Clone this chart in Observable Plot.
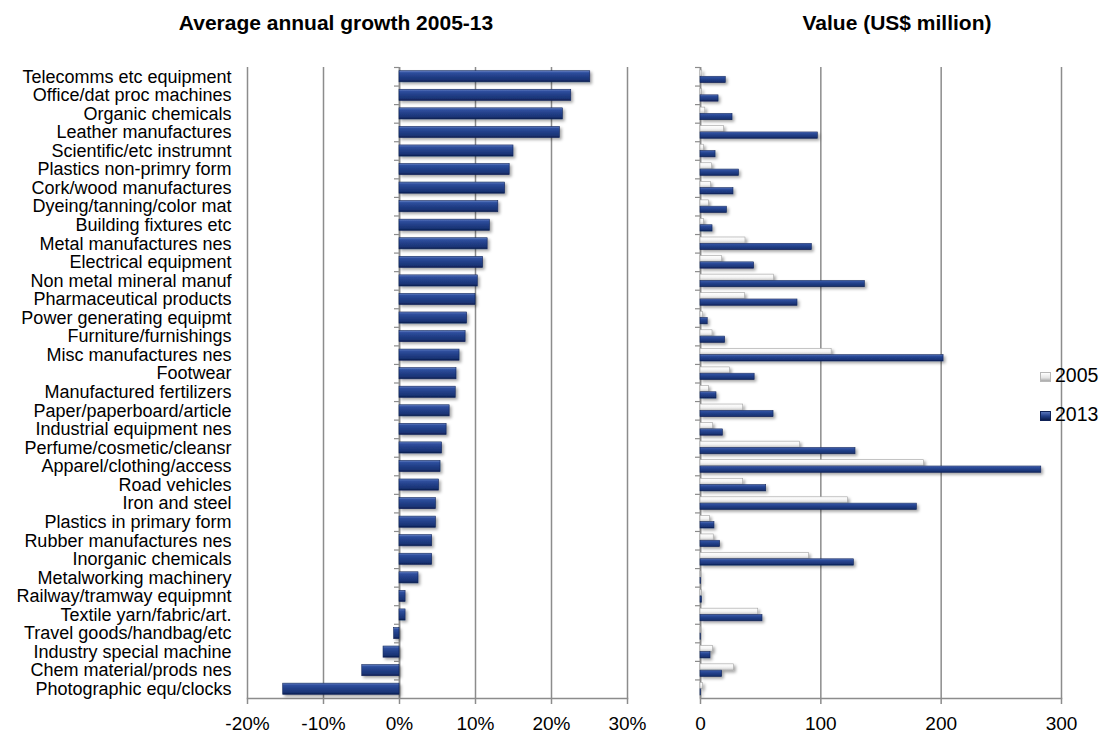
<!DOCTYPE html>
<html>
<head>
<meta charset="utf-8">
<script src="https://cdn.jsdelivr.net/npm/d3@7"></script>
<script src="https://cdn.jsdelivr.net/npm/@observablehq/plot@0.6"></script>
<style>
  html, body { margin: 0; padding: 0; background: #fff; }
  #wrap { position: relative; width: 1104px; height: 733px; font-family: "Liberation Sans", Arial, sans-serif; color: #000; }
  #wrap svg { position: absolute; top: 0; }
  .title { position: absolute; top: 12px; font-weight: bold; font-size: 21px; line-height: 21px; text-align: center; white-space: nowrap; }
  .leg { position: absolute; left: 1040px; font-size: 19.5px; line-height: 20px; white-space: nowrap; }
  .leg .sw { display: inline-block; width: 11px; height: 10px; vertical-align: middle; margin-right: 4px; box-sizing: border-box; }
</style>
</head>
<body>
<div id="wrap">
  <div class="title" style="left:0px;width:672px;">Average annual growth 2005-13</div>
  <div class="title" style="left:697px;width:400px;">Value (US$ million)</div>
</div>
<script>
const categories = [
  "Telecomms etc equipment", "Office/dat proc machines", "Organic chemicals", "Leather manufactures",
  "Scientific/etc instrumnt", "Plastics non-primry form", "Cork/wood manufactures", "Dyeing/tanning/color mat",
  "Building fixtures etc", "Metal manufactures nes", "Electrical equipment", "Non metal mineral manuf",
  "Pharmaceutical products", "Power generating equipmt", "Furniture/furnishings", "Misc manufactures nes",
  "Footwear", "Manufactured fertilizers", "Paper/paperboard/article", "Industrial equipment nes",
  "Perfume/cosmetic/cleansr", "Apparel/clothing/access", "Road vehicles", "Iron and steel",
  "Plastics in primary form", "Rubber manufactures nes", "Inorganic chemicals", "Metalworking machinery",
  "Railway/tramway equipmnt", "Textile yarn/fabric/art.", "Travel goods/handbag/etc", "Industry special machine",
  "Chem material/prods nes", "Photographic equ/clocks"
];
// Average annual growth 2005-13, percent
const growth = [25.1, 22.6, 21.5, 21.1, 15.0, 14.5, 13.9, 13.0, 11.9, 11.6, 11.0, 10.3, 10.0, 8.9, 8.7, 7.9,
  7.5, 7.4, 6.6, 6.2, 5.6, 5.4, 5.2, 4.8, 4.8, 4.3, 4.3, 2.5, 0.8, 0.8, -0.7, -2.1, -4.9, -15.3];
// Value, US$ million
const value2005 = [1.5, 1, 4, 19.4, 2.8, 9.7, 8.6, 6.9, 2.8, 37.4, 18, 61.2, 36.9, 2, 10, 109,
  24.4, 6.9, 35.5, 10.5, 82.8, 185.7, 35.5, 122.5, 7.8, 11, 90, 0.3, 1, 48, 0.3, 10.5, 28, 2];
const value2013 = [21, 15, 26.6, 97.5, 12.5, 32, 27.4, 22, 10, 92.5, 44.6, 136.6, 80.6, 6, 20.5, 202,
  45, 13.3, 60.7, 18.6, 128.8, 283.2, 54.6, 179.8, 11.6, 16.3, 127.5, 0.5, 1.2, 51.5, 0.3, 8.3, 18, 0.5];
const growthTicks = [-20, -10, 0, 10, 20, 30];
const valueTicks = [0, 100, 200, 300];
const seriesNames = ["2005", "2013"];

const rows = categories.map((c, i) => ({category: c, growth: growth[i], v2005: value2005[i], v2013: value2013[i]}));

const H = 733, MT = 67, MB = 35;
const step = (H - MT - MB) / categories.length;
const grid = "#8c8c8c";
const font = "'Liberation Sans', Arial, sans-serif";

function addDefs(svg, p) {
  const defs = d3.select(svg).insert("defs", ":first-child");
  const gN = defs.append("linearGradient").attr("id", p + "navy").attr("x1", 0).attr("y1", 0).attr("x2", 0).attr("y2", 1);
  [[0, "#6a86c8"], [0.18, "#2f4f9e"], [0.5, "#223f88"], [0.82, "#1a3475"], [1, "#0b1c4c"]].forEach(([o, c]) =>
    gN.append("stop").attr("offset", o).attr("stop-color", c));
  const gW = defs.append("linearGradient").attr("id", p + "white").attr("x1", 0).attr("y1", 0).attr("x2", 0).attr("y2", 1);
  [[0, "#ffffff"], [0.5, "#f4f4f4"], [0.85, "#d6d6d6"], [1, "#b0b0b0"]].forEach(([o, c]) =>
    gW.append("stop").attr("offset", o).attr("stop-color", c));
  const f = defs.append("filter").attr("id", p + "shadow").attr("x", "-20%").attr("y", "-20%").attr("width", "140%").attr("height", "160%");
  f.append("feDropShadow").attr("dx", 2).attr("dy", 2).attr("stdDeviation", 1.6).attr("flood-color", "#000").attr("flood-opacity", 0.35);
  d3.select(svg).selectAll("g[aria-label=bar]").attr("filter", `url(#${p}shadow)`);
}

const left = Plot.plot({
  width: 660, height: H, marginLeft: 247, marginRight: 33, marginTop: MT, marginBottom: MB,
  style: {fontFamily: font, fontSize: "18px", color: "#000", background: "transparent", overflow: "visible"},
  x: {domain: [-20, 30]},
  y: {domain: categories, paddingInner: 0.4, paddingOuter: 0.2, round: false, label: null},
  marks: [
    Plot.gridX({ticks: growthTicks, stroke: grid, strokeOpacity: 1, strokeWidth: 1.5}),
    Plot.frame({anchor: "bottom", stroke: grid, strokeWidth: 1.5}),
    Plot.ruleX([0], {stroke: grid, strokeWidth: 1.5}),
    Plot.ruleY(categories, {y: d => d, x1: 0, x2: 0, insetLeft: -5, dy: -step / 2, stroke: grid, strokeWidth: 1.2}),
    Plot.barX(rows, {y: "category", x: "growth", fill: "url(#Lnavy)", stroke: "#10245a", strokeWidth: 0.6}),
    Plot.axisY({tickSize: 0, tickPadding: 16, fontSize: 18, fill: "#000", label: null}),
    Plot.axisX({ticks: growthTicks, tickSize: 6, tickPadding: 12, tickFormat: d => d + "%", fontSize: 19, stroke: grid, strokeWidth: 1.5, fill: "#000", label: null})
  ]
});
left.style.left = "0px";
addDefs(left, "L");

const bw = step * (1 - 0.32);
const right = Plot.plot({
  width: 444, height: H, marginLeft: 40, marginRight: 43, marginTop: MT, marginBottom: MB,
  style: {fontFamily: font, fontSize: "19px", color: "#000", background: "transparent", overflow: "visible"},
  x: {domain: [0, 300]},
  y: {domain: categories, paddingInner: 0.32, paddingOuter: 0.16, round: false, axis: null},
  marks: [
    Plot.gridX({ticks: valueTicks, stroke: grid, strokeOpacity: 1, strokeWidth: 1.5}),
    Plot.frame({anchor: "bottom", stroke: grid, strokeWidth: 1.5}),
    Plot.ruleX([0], {stroke: grid, strokeWidth: 1.5}),
    Plot.ruleY(categories, {y: d => d, x1: 0, x2: 0, insetLeft: -5, dy: -step / 2, stroke: grid, strokeWidth: 1.2}),
    Plot.barX(rows, {y: "category", x: "v2005", insetBottom: bw / 2, fill: "url(#Rwhite)", stroke: "#a0a0a0", strokeWidth: 0.6}),
    Plot.barX(rows, {y: "category", x: "v2013", insetTop: bw / 2, fill: "url(#Rnavy)", stroke: "#10245a", strokeWidth: 0.6}),
    Plot.axisX({ticks: valueTicks, tickSize: 6, tickPadding: 12, fontSize: 19, stroke: grid, strokeWidth: 1.5, fill: "#000", label: null})
  ]
});
right.style.left = "660px";
addDefs(right, "R");

const wrap = document.getElementById("wrap");
wrap.appendChild(left);
wrap.appendChild(right);

// Legend
const legTops = [365, 404];
const swStyles = [
  "background:linear-gradient(#ffffff,#e4e4e4 60%,#a8a8a8);border:1px solid #b8b8b8;",
  "background:linear-gradient(#5a76bb,#223f88 50%,#0b1c4c);border:1px solid #0f2257;"
];
seriesNames.forEach((name, i) => {
  const d = document.createElement("div");
  d.className = "leg";
  d.style.top = legTops[i] + "px";
  d.innerHTML = `<span class="sw" style="${swStyles[i]}"></span>${name}`;
  wrap.appendChild(d);
});
</script>
</body>
</html>
